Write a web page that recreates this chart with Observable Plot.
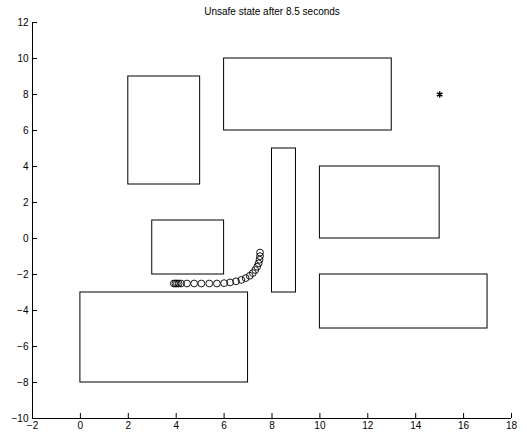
<!DOCTYPE html>
<html>
<head>
<meta charset="utf-8">
<script src="https://cdn.jsdelivr.net/npm/d3@7"></script>
<script src="https://cdn.jsdelivr.net/npm/@observablehq/plot@0.6"></script>
<style>
  html, body { margin: 0; padding: 0; background: #fff; }
  svg { display: block; }
</style>
</head>
<body>
<div id="chart"></div>
<script>
const title = "Unsafe state after 8.5 seconds";

// Obstacles (rectangles)
const obsX1 = [2, 6, 8, 10, 3, 10, 0];
const obsX2 = [5, 13, 9, 15, 6, 17, 7];
const obsY1 = [3, 6, -3, 0, -2, -5, -8];
const obsY2 = [9, 10, 5, 4, 1, -2, -3];

// Robot trajectory (circles)
const pathX = [3.9, 3.97, 4.03, 4.1, 4.2, 4.45, 4.75, 5.05, 5.38, 5.7, 6.0, 6.25, 6.5, 6.72, 6.9, 7.07, 7.2, 7.3, 7.38, 7.44, 7.48, 7.5, 7.5];
const pathY = [-2.5, -2.5, -2.5, -2.5, -2.5, -2.5, -2.5, -2.5, -2.5, -2.5, -2.48, -2.44, -2.38, -2.3, -2.2, -2.07, -1.92, -1.75, -1.57, -1.38, -1.18, -0.98, -0.78];

// Goal (asterisk)
const goalX = [15];
const goalY = [8];

// Axes
const xDomain = [-2, 18];
const yDomain = [-10, 12];
const xTicks = [-2, 0, 2, 4, 6, 8, 10, 12, 14, 16, 18];
const yTicks = [-10, -8, -6, -4, -2, 0, 2, 4, 6, 8, 10, 12];

const obstacles = obsX1.map((d, i) => ({x1: obsX1[i], x2: obsX2[i], y1: obsY1[i], y2: obsY2[i]}));
const path = pathX.map((d, i) => ({x: pathX[i], y: pathY[i]}));
const goal = goalX.map((d, i) => ({x: goalX[i], y: goalY[i]}));

const chart = Plot.plot({
  width: 527,
  height: 436,
  marginLeft: 32,
  marginRight: 16,
  marginTop: 22,
  marginBottom: 18,
  style: {fontFamily: "Liberation Sans, Arial, Helvetica, sans-serif", fontSize: "10px", color: "#000", background: "#fff"},
  x: {domain: xDomain},
  y: {domain: yDomain},
  marks: [
    Plot.rect(obstacles, {x1: "x1", x2: "x2", y1: "y1", y2: "y2", fill: "none", stroke: "#000", strokeWidth: 1}),
    Plot.dot(path, {x: "x", y: "y", r: 3.4, fill: "none", stroke: "#000", strokeWidth: 0.9}),
    Plot.dot(goal, {x: "x", y: "y", symbol: "asterisk", r: 3, stroke: "#000", strokeWidth: 1.5}),
    Plot.ruleX([xDomain[0]], {stroke: "#000", strokeWidth: 1}),
    Plot.ruleY([yDomain[0]], {stroke: "#000", strokeWidth: 1}),
    Plot.axisX(xTicks, {anchor: "bottom", tickSize: -5, tickPadding: 8, label: null, fontSize: 10}),
    Plot.axisY(yTicks, {anchor: "left", tickSize: -5, tickPadding: 9, label: null, fontSize: 10}),
    Plot.text([title], {frameAnchor: "top", dy: -15, fontSize: 10, text: d => d})
  ]
});
document.getElementById("chart").appendChild(chart);
</script>
</body>
</html>
